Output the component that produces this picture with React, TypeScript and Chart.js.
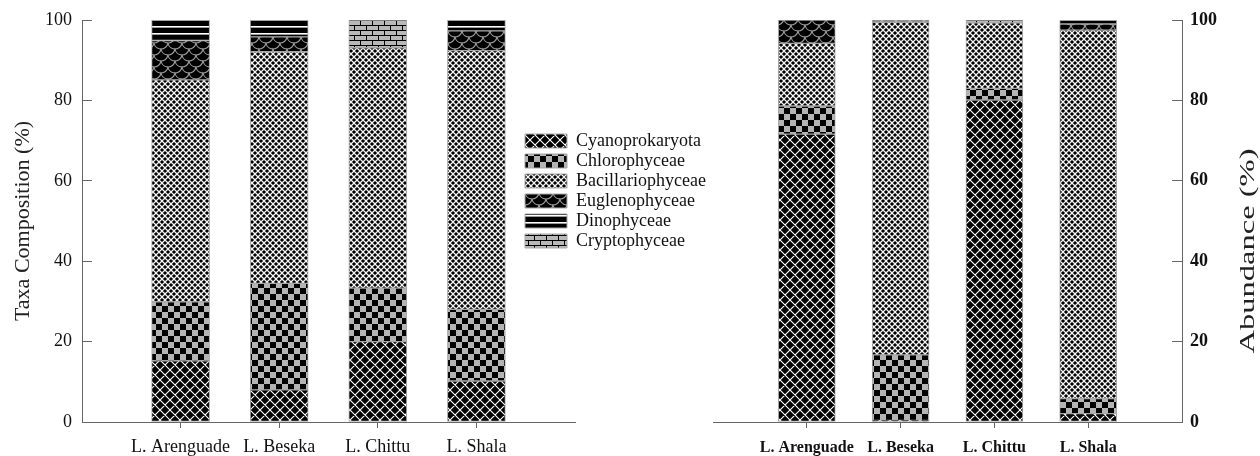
import React, { useEffect, useRef } from 'react';
import { Chart, registerables } from 'chart.js';

Chart.register(...registerables);

const lakes = ['L. Arenguade', 'L. Beseka', 'L. Chittu', 'L. Shala'];
const taxa = ['Cyanoprokaryota', 'Chlorophyceae', 'Bacillariophyceae', 'Euglenophyceae', 'Dinophyceae', 'Cryptophyceae'];
const yTicks = [0, 20, 40, 60, 80, 100];

// Taxa composition (%)
const compCyano = [15.2, 8.0, 20.0, 10.2];
const compChloro = [14.7, 26.5, 13.3, 17.8];
const compBacil = [55.2, 57.6, 59.8, 64.4];
const compEugleno = [9.8, 3.7, 0, 4.9];
const compDino = [5.1, 4.2, 0, 2.7];
const compCrypto = [0, 0, 6.9, 0];

// Abundance (%)
const abunCyano = [71.6, 0.4, 80.1, 2.1];
const abunChloro = [7.0, 16.3, 2.9, 3.7];
const abunBacil = [15.6, 82.8, 16.3, 91.7];
const abunEugleno = [5.8, 0.5, 0, 1.5];
const abunDino = [0, 0, 0, 1.0];
const abunCrypto = [0, 0, 0.7, 0];

const leftTitle = 'Taxa Composition (%)';
const rightTitle = 'Abundance (%)';

const SERIF = '"Liberation Serif", "Times New Roman", serif';

function tile(w: number, h: number, draw: (g: CanvasRenderingContext2D) => void): CanvasPattern {
  const c = document.createElement('canvas');
  c.width = w;
  c.height = h;
  const g = c.getContext('2d')!;
  draw(g);
  const ctx = document.createElement('canvas').getContext('2d')!;
  return ctx.createPattern(c, 'repeat')!;
}

function makePatterns(): CanvasPattern[] {
  const cyano = tile(10, 10, (g) => {
    g.fillStyle = '#000';
    g.fillRect(0, 0, 10, 10);
    g.strokeStyle = '#fff';
    g.lineWidth = 1.1;
    g.beginPath();
    for (const dx of [-10, 0, 10]) {
      g.moveTo(dx, 0);
      g.lineTo(dx + 10, 10);
      g.moveTo(dx + 10, 0);
      g.lineTo(dx, 10);
    }
    g.stroke();
  });
  const chloro = tile(12, 12, (g) => {
    g.fillStyle = '#b4b4b4';
    g.fillRect(0, 0, 12, 12);
    g.fillStyle = '#000';
    g.fillRect(0, 0, 6, 6);
    g.fillRect(6, 6, 6, 6);
  });
  const bacil = tile(6, 6, (g) => {
    g.fillStyle = '#f4f4f4';
    g.fillRect(0, 0, 6, 6);
    g.fillStyle = '#000';
    const dia = (cx: number, cy: number, r: number) => {
      g.beginPath();
      g.moveTo(cx - r, cy);
      g.lineTo(cx, cy - r);
      g.lineTo(cx + r, cy);
      g.lineTo(cx, cy + r);
      g.closePath();
      g.fill();
    };
    for (const [x, y] of [[0, 0], [6, 0], [0, 6], [6, 6], [3, 3]]) dia(x, y, 2.1);
  });
  const eugleno = tile(14, 12, (g) => {
    g.fillStyle = '#000';
    g.fillRect(0, 0, 14, 12);
    g.strokeStyle = '#9a9a9a';
    g.lineWidth = 1.2;
    const arc = (cx: number, cy: number) => {
      g.beginPath();
      g.arc(cx, cy, 7, 0.1, Math.PI - 0.1);
      g.stroke();
    };
    arc(0, 0); arc(14, 0); arc(7, 6); arc(0, 12); arc(14, 12); arc(7, -6);
  });
  const dino = tile(8, 7, (g) => {
    g.fillStyle = '#000';
    g.fillRect(0, 0, 8, 7);
    g.fillStyle = '#fff';
    g.fillRect(0, 5, 8, 1.6);
  });
  const crypto = tile(12, 10, (g) => {
    g.fillStyle = '#b8b8b8';
    g.fillRect(0, 0, 12, 10);
    g.strokeStyle = '#000';
    g.lineWidth = 1;
    g.beginPath();
    g.moveTo(0, 0.5); g.lineTo(12, 0.5);
    g.moveTo(0, 5.5); g.lineTo(12, 5.5);
    g.moveTo(0.5, 0); g.lineTo(0.5, 5.5);
    g.moveTo(6.5, 5.5); g.lineTo(6.5, 10);
    g.stroke();
  });
  return [cyano, chloro, bacil, eugleno, dino, crypto];
}

const pad = (a: number[]) => [null, ...a, null];
const catLabels = ['', ...lakes, ''];

function datasets(series: number[][], pats: CanvasPattern[], thickness: number) {
  return taxa.map((name, i) => ({
    label: name,
    data: pad(series[i]),
    backgroundColor: pats[i],
    borderColor: '#a8a8a8',
    borderWidth: 1,
    borderSkipped: false,
    barThickness: thickness,
    stack: 's',
  }));
}

const legendMover = {
  id: 'legendMover',
  beforeDraw(chart: any) {
    const lg = chart.legend;
    if (!lg) return;
    lg.left = 523;
    lg.top = 130;
    lg.right = lg.left + lg.width;
    lg.bottom = lg.top + 300;
  },
};

const rightTitlePlugin = {
  id: 'rightTitle',
  afterDraw(chart: any) {
    const ctx = chart.ctx;
    ctx.save();
    ctx.font = `21px ${SERIF}`;
    const w = ctx.measureText(rightTitle).width;
    ctx.translate(548, 251);
    ctx.rotate(-Math.PI / 2);
    ctx.scale(205 / w, 1);
    ctx.textAlign = 'center';
    ctx.textBaseline = 'middle';
    ctx.fillStyle = '#222';
    ctx.fillText(rightTitle, 0, 0);
    ctx.restore();
  },
};

const keepInner = (s: any) => {
  s.ticks = s.ticks.filter((t: any) => t.value >= 1 && t.value <= 4);
};

const yFit = (w: number) => (s: any) => {
  s.width = w;
  s.paddingTop = 0;
  s.paddingBottom = 0;
};

export default function App() {
  const leftRef = useRef<HTMLCanvasElement>(null);
  const rightRef = useRef<HTMLCanvasElement>(null);

  useEffect(() => {
    const pats = makePatterns();
    const left = new Chart(leftRef.current!, {
      type: 'bar',
      data: {
        labels: catLabels,
        datasets: datasets([compCyano, compChloro, compBacil, compEugleno, compDino, compCrypto], pats, 58) as any,
      },
      plugins: [legendMover],
      options: {
        responsive: false,
        animation: false,
        layout: { padding: { left: 0, right: 715 - 575, top: 20, bottom: 0 } },
        plugins: {
          tooltip: { enabled: false },
          legend: {
            position: 'chartArea' as any,
            align: 'start',
            labels: {
              boxWidth: 42,
              boxHeight: 14,
              padding: 2,
              color: '#111',
              font: { family: SERIF, size: 18 },
            },
          },
        },
        scales: {
          x: {
            type: 'category',
            stacked: true,
            offset: false,
            afterBuildTicks: keepInner,
            afterFit: (s: any) => { s.height = 34; },
            grid: { offset: false, drawOnChartArea: false, drawTicks: true, tickLength: 6, color: '#666' },
            border: { color: '#666', width: 1 },
            ticks: { color: '#111', font: { family: SERIF, size: 18 }, padding: 8, maxRotation: 0, autoSkip: false },
          },
          y: {
            stacked: true,
            min: 0,
            max: 100,
            afterBuildTicks: (s: any) => { s.ticks = yTicks.map((v) => ({ value: v })); },
            afterFit: yFit(82),
            grid: { drawOnChartArea: false, drawTicks: true, tickLength: -10, color: '#666' },
            border: { color: '#666', width: 1 },
            ticks: { color: '#111', font: { family: SERIF, size: 18 }, padding: 20 },
            title: {
              display: true,
              text: leftTitle,
              color: '#222',
              font: { family: SERIF, size: 22 },
              padding: { top: 10, bottom: 0 },
            },
          },
        },
      },
    });

    const right = new Chart(rightRef.current!, {
      type: 'bar',
      data: {
        labels: catLabels,
        datasets: datasets([abunCyano, abunChloro, abunBacil, abunEugleno, abunDino, abunCrypto], pats, 57) as any,
      },
      plugins: [rightTitlePlugin],
      options: {
        responsive: false,
        animation: false,
        layout: { padding: { left: 13, right: 0, top: 20, bottom: 0 } },
        plugins: { tooltip: { enabled: false }, legend: { display: false } },
        scales: {
          x: {
            type: 'category',
            stacked: true,
            offset: false,
            afterBuildTicks: keepInner,
            afterFit: (s: any) => { s.height = 34; },
            grid: { offset: false, drawOnChartArea: false, drawTicks: true, tickLength: 6, color: '#666' },
            border: { color: '#666', width: 1 },
            ticks: { color: '#111', font: { family: SERIF, size: 16, weight: 'bold' }, padding: 10, maxRotation: 0, autoSkip: false },
          },
          y: {
            position: 'right',
            stacked: true,
            min: 0,
            max: 100,
            afterBuildTicks: (s: any) => { s.ticks = yTicks.map((v) => ({ value: v })); },
            afterFit: yFit(78),
            grid: { drawOnChartArea: false, drawTicks: true, tickLength: -10, color: '#666' },
            border: { color: '#666', width: 1 },
            ticks: { color: '#111', font: { family: SERIF, size: 18, weight: 'bold' }, padding: 18 },
          },
        },
      },
    });

    return () => {
      left.destroy();
      right.destroy();
    };
  }, []);

  return (
    <div style={{ position: 'fixed', left: 0, top: 0, width: 1260, height: 456, background: '#fff' }}>
      <canvas ref={leftRef} width={715} height={456} style={{ position: 'absolute', left: 0, top: 0 }} />
      <canvas ref={rightRef} width={560} height={456} style={{ position: 'absolute', left: 700, top: 0 }} />
    </div>
  );
}
